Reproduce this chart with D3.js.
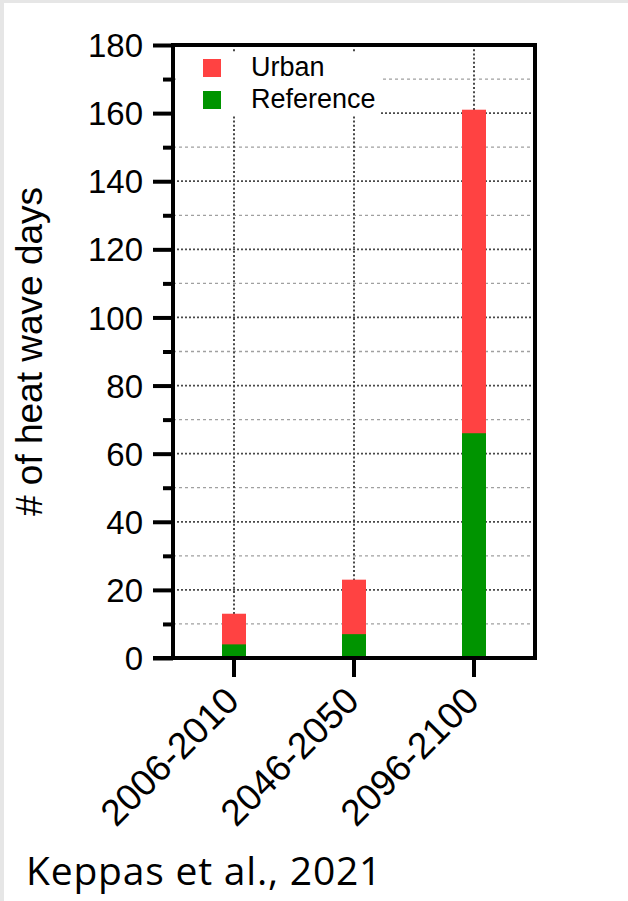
<!DOCTYPE html>
<html>
<head>
<meta charset="utf-8">
<script src="https://cdn.jsdelivr.net/npm/d3@7"></script>
<style>
  html, body { margin: 0; padding: 0; background: #fff; }
  svg { display: block; }
</style>
</head>
<body>
<script>
// Heat wave days per period: urban totals and reference values
const periods = ["2006-2010", "2046-2050", "2096-2100"];
const urbanDays = [13, 23, 161];
const referenceDays = [4, 7, 66];
const yMajorTicks = [0, 20, 40, 60, 80, 100, 120, 140, 160, 180];
const yMinorTicks = [10, 30, 50, 70, 90, 110, 130, 150, 170];
const seriesNames = ["Urban", "Reference"];
const seriesColors = ["#ff4242", "#009400"];

const W = 628, H = 901;
const svg = d3.select("body").append("svg").attr("width", W).attr("height", H);

// slide frame
svg.append("rect").attr("width", W).attr("height", H).attr("fill", "#e6e6e6");
svg.append("rect").attr("x", 4).attr("y", 3).attr("width", W - 4).attr("height", H - 3).attr("fill", "#fff");

const pLeft = 173, pRight = 535, pTop = 45, pBottom = 658;
const x = d3.scaleBand().domain(periods).range([pLeft + 1, pRight - 1]).paddingInner(0.8).paddingOuter(0.4);
const y = d3.scaleLinear().domain([0, 180]).range([pBottom, pTop]);
const cx = d => x(d) + x.bandwidth() / 2;

const font = "'Liberation Sans', Arial, sans-serif";

// grid: minor (light dashes) and major (dark dots)
const grid = svg.append("g");
grid.selectAll("line.minor").data(yMinorTicks).join("line")
  .attr("x1", pLeft).attr("x2", pRight).attr("y1", d => y(d)).attr("y2", d => y(d))
  .attr("stroke", "#a0a0a0").attr("stroke-width", 1.3).attr("stroke-dasharray", "3,3");
grid.selectAll("line.major").data(yMajorTicks.slice(1, -1)).join("line")
  .attr("x1", pLeft).attr("x2", pRight).attr("y1", d => y(d)).attr("y2", d => y(d))
  .attr("stroke", "#4a4a4a").attr("stroke-width", 1.8).attr("stroke-dasharray", "2,2");
grid.selectAll("line.v").data(periods).join("line")
  .attr("x1", cx).attr("x2", cx).attr("y1", pTop).attr("y2", pBottom)
  .attr("stroke", "#4a4a4a").attr("stroke-width", 2).attr("stroke-dasharray", "2,2.2");

// bars: urban total behind, reference in front
const bars = svg.append("g");
bars.selectAll("rect.u").data(periods).join("rect")
  .attr("x", d => x(d)).attr("width", x.bandwidth())
  .attr("y", (d, i) => y(urbanDays[i])).attr("height", (d, i) => y(0) - y(urbanDays[i]))
  .attr("fill", seriesColors[0]);
bars.selectAll("rect.r").data(periods).join("rect")
  .attr("x", d => x(d)).attr("width", x.bandwidth())
  .attr("y", (d, i) => y(referenceDays[i])).attr("height", (d, i) => y(0) - y(referenceDays[i]))
  .attr("fill", seriesColors[1]);

// legend
const legend = svg.append("g");
legend.append("rect").attr("x", pLeft + 3).attr("y", 52).attr("width", 380 - pLeft - 3).attr("height", 64).attr("fill", "#fff");
seriesNames.forEach((name, i) => {
  const yy = 59 + i * 32;
  legend.append("rect").attr("x", 203).attr("y", yy).attr("width", 18).attr("height", 18).attr("fill", seriesColors[i]);
  legend.append("text").attr("x", 251).attr("y", yy + 17).attr("font-family", font).attr("font-size", 27)
    .attr("fill", "#000").text(name);
});

// frame on top and right
svg.append("line").attr("x1", pLeft).attr("x2", pRight + 2).attr("y1", pTop).attr("y2", pTop)
  .attr("stroke", "#000").attr("stroke-width", 4);
svg.append("line").attr("x1", pRight).attr("x2", pRight).attr("y1", pTop - 2).attr("y2", pBottom)
  .attr("stroke", "#000").attr("stroke-width", 4);

// y axis
const yAxis = svg.append("g").attr("transform", `translate(${pLeft},0)`)
  .call(d3.axisLeft(y).tickValues(yMajorTicks).tickSize(20).tickPadding(10));
yAxis.select(".domain").attr("stroke", "#000").attr("stroke-width", 4).attr("d", `M0,${pTop - 2}V${pBottom + 2}`);
yAxis.selectAll(".tick line").attr("stroke", "#000").attr("stroke-width", 4);
yAxis.selectAll(".tick text").attr("font-family", font).attr("font-size", 33).attr("fill", "#000").attr("dy", "0.35em");
const yMinor = svg.append("g").attr("transform", `translate(${pLeft},0)`)
  .call(d3.axisLeft(y).tickValues(yMinorTicks).tickSize(10).tickFormat(""));
yMinor.select(".domain").remove();
yMinor.selectAll(".tick line").attr("stroke", "#000").attr("stroke-width", 4);

// x axis
const xAxis = svg.append("g").attr("transform", `translate(0,${pBottom})`)
  .call(d3.axisBottom(x).tickSize(19).tickPadding(0));
xAxis.select(".domain").attr("stroke", "#000").attr("stroke-width", 4).attr("d", `M${pLeft - 20},0H${pRight + 2}`);
xAxis.selectAll(".tick line").attr("stroke", "#000").attr("stroke-width", 4);
xAxis.selectAll(".tick text")
  .attr("font-family", font).attr("font-size", 37).attr("fill", "#000")
  .attr("text-anchor", "end").attr("dy", 0).attr("y", 0)
  .attr("transform", "translate(7,45) rotate(-45)");

// y axis title
svg.append("text")
  .attr("transform", `translate(42,${(pTop + pBottom) / 2}) rotate(-90)`)
  .attr("text-anchor", "middle").attr("font-family", font).attr("font-size", 37).attr("fill", "#000")
  .text("# of heat wave days");

// citation
svg.append("text").attr("x", 26).attr("y", 885)
  .attr("font-family", "'Open Sans', Lato, sans-serif").attr("font-size", 39).attr("letter-spacing", 0.8).attr("fill", "#000")
  .text("Keppas et al., 2021");
</script>
</body>
</html>
